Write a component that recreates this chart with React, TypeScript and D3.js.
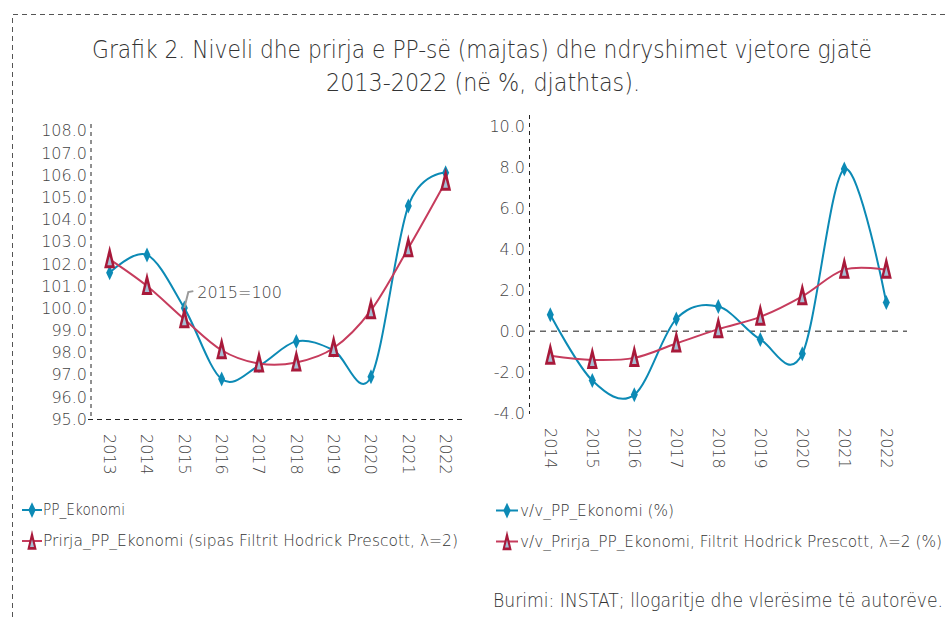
import React from "react";
import * as d3 from "d3";

const yearsLeft = ["2013", "2014", "2015", "2016", "2017", "2018", "2019", "2020", "2021", "2022"];
const ppEkonomi = [101.6, 102.4, 100.0, 96.8, 97.4, 98.5, 98.1, 96.9, 104.6, 106.1];
const prirjaPP = [102.2, 101.0, 99.5, 98.1, 97.5, 97.55, 98.2, 99.9, 102.7, 105.7];
const leftTicks = [95, 96, 97, 98, 99, 100, 101, 102, 103, 104, 105, 106, 107, 108];

const yearsRight = ["2014", "2015", "2016", "2017", "2018", "2019", "2020", "2021", "2022"];
const vvPP = [0.8, -2.4, -3.1, 0.6, 1.2, -0.4, -1.1, 7.9, 1.4];
const vvPrirja = [-1.2, -1.4, -1.3, -0.6, 0.1, 0.7, 1.7, 3.0, 3.0];
const rightTicks = [-4, -2, 0, 2, 4, 6, 8, 10];

const titleLines = [
  "Grafik 2. Niveli dhe prirja e PP-së (majtas) dhe ndryshimet vjetore gjatë",
  "2013-2022 (në %, djathtas).",
];
const legendLeft = ["PP_Ekonomi", "Prirja_PP_Ekonomi (sipas Filtrit Hodrick Prescott, λ=2)"];
const legendRight = ["v/v_PP_Ekonomi (%)", "v/v_Prirja_PP_Ekonomi,  Filtrit Hodrick Prescott, λ=2 (%)"];
const sourceText = "Burimi: INSTAT; llogaritje dhe vlerësime të autorëve.";

const BLUE = "#0c8ab5";
const RED_LINE = "#c63c5d";
const RED_MARK = "#a8193a";
const TRI_FILL = "#a7bfd5";
const TEXT = "#333333";
const TICK = "#444444";
const FONT = "'DejaVu Sans', 'Open Sans', sans-serif";
const TICKFONT = "'DejaVu Sans', 'Open Sans', sans-serif";
const LIGHT = 200;

const Diamond = ({ x, y, s = 1 }: { x: number; y: number; s?: number }) => (
  <path d={`M${x},${y - 7.5 * s} L${x + 3.5 * s},${y} L${x},${y + 7.5 * s} L${x - 3.5 * s},${y} Z`} fill={BLUE} />
);

const Triangle = ({ x, y, s = 1 }: { x: number; y: number; s?: number }) => (
  <g>
    <path d={`M${x},${y - 14 * s} L${x + 5.5 * s},${y + 9 * s} L${x - 5.5 * s},${y + 9 * s} Z`} fill={RED_MARK} />
    <path d={`M${x},${y - 3 * s} L${x + 2.3 * s},${y + 6 * s} L${x - 2.3 * s},${y + 6 * s} Z`} fill={TRI_FILL} />
  </g>
);

export default function App() {
  // Left chart scales
  const xL = d3.scalePoint<string>().domain(yearsLeft).range([91, 464.3]).padding(0.5);
  const yL = d3.scaleLinear().domain([95, 108]).range([419, 130.7]);
  // Right chart scales
  const xR = d3.scalePoint<string>().domain(yearsRight).range([529.3, 907.3]).padding(0.5);
  const yR = d3.scaleLinear().domain([-4, 10]).range([413.3, 126]);

  const curve = d3.curveCatmullRom.alpha(0);
  const lineL = d3.line<number>().x((_, i) => xL(yearsLeft[i])!).y((d) => yL(d)).curve(curve);
  const lineR = d3.line<number>().x((_, i) => xR(yearsRight[i])!).y((d) => yR(d)).curve(curve);

  const lab2015x = xL("2015")!;
  const lab2015y = yL(100);

  return (
    <svg width={946} height={617} style={{ position: "absolute", left: 0, top: 0, display: "block" }}>
      <rect x={0} y={0} width={946} height={617} fill="#ffffff" />
      {/* outer dashed frame */}
      <path d="M12.5,617 L12.5,14.5 L946,14.5" fill="none" stroke="#555" strokeWidth={1} strokeDasharray="5,4" />

      {/* title */}
      <text x={482} y={58} textAnchor="middle" fontFamily={FONT} fontWeight={LIGHT} fontSize={24} fill={TEXT} textLength={780} lengthAdjust="spacingAndGlyphs">
        {titleLines[0]}
      </text>
      <text x={483} y={91} textAnchor="middle" fontFamily={FONT} fontWeight={LIGHT} fontSize={24} fill={TEXT} textLength={314} lengthAdjust="spacingAndGlyphs">
        {titleLines[1]}
      </text>

      {/* LEFT CHART */}
      <line x1={91} x2={91} y1={124} y2={419} stroke="#222" strokeWidth={1} strokeDasharray="4,4" />
      <line x1={88} x2={464} y1={419.5} y2={419.5} stroke="#222" strokeWidth={1} strokeDasharray="5,4" />
      {leftTicks.map((t) => (
        <text key={t} x={87} y={yL(t)} dy="0.36em" textAnchor="end" fontFamily={TICKFONT} fontWeight={LIGHT} fontSize={16} fill={TICK}>
          {t.toFixed(1)}
        </text>
      ))}
      {yearsLeft.map((yr) => (
        <text
          key={yr}
          transform={`translate(${xL(yr)},${434}) rotate(90)`}
          dy="0.36em"
          textAnchor="start"
          fontFamily={TICKFONT}
          fontWeight={LIGHT}
          fontSize={16}
          fill={TICK}
        >
          {yr}
        </text>
      ))}
      <path d={lineL(ppEkonomi) || ""} fill="none" stroke={BLUE} strokeWidth={2} />
      <path d={lineL(prirjaPP) || ""} fill="none" stroke={RED_LINE} strokeWidth={2} />
      {ppEkonomi.map((v, i) => (
        <Diamond key={"dl" + i} x={xL(yearsLeft[i])!} y={yL(v)} />
      ))}
      {prirjaPP.map((v, i) => (
        <Triangle key={"tl" + i} x={xL(yearsLeft[i])!} y={yL(v)} />
      ))}
      {/* 2015=100 annotation */}
      <path
        d={`M${lab2015x},${lab2015y} L${lab2015x + 4},${lab2015y - 16} L${lab2015x + 9},${lab2015y - 17}`}
        fill="none"
        stroke="#9a9a9a"
        strokeWidth={2}
      />
      <text x={lab2015x + 13} y={lab2015y - 16} dy="0.36em" fontFamily={TICKFONT} fontWeight={LIGHT} fontSize={16} fill={TICK}>
        2015=100
      </text>

      {/* RIGHT CHART */}
      <line x1={529.5} x2={529.5} y1={115} y2={414} stroke="#222" strokeWidth={1} strokeDasharray="4,4" />
      <line x1={529} x2={907} y1={yR(0)} y2={yR(0)} stroke="#666" strokeWidth={1.5} strokeDasharray="6,5" />
      {rightTicks.map((t) => (
        <text key={t} x={525} y={yR(t)} dy="0.36em" textAnchor="end" fontFamily={TICKFONT} fontWeight={LIGHT} fontSize={16} fill={TICK}>
          {t.toFixed(1)}
        </text>
      ))}
      {yearsRight.map((yr) => (
        <text
          key={yr}
          transform={`translate(${xR(yr)},${428}) rotate(90)`}
          dy="0.36em"
          textAnchor="start"
          fontFamily={TICKFONT}
          fontWeight={LIGHT}
          fontSize={16}
          fill={TICK}
        >
          {yr}
        </text>
      ))}
      <path d={lineR(vvPP) || ""} fill="none" stroke={BLUE} strokeWidth={2} />
      <path d={lineR(vvPrirja) || ""} fill="none" stroke={RED_LINE} strokeWidth={2} />
      {vvPP.map((v, i) => (
        <Diamond key={"dr" + i} x={xR(yearsRight[i])!} y={yR(v)} />
      ))}
      {vvPrirja.map((v, i) => (
        <Triangle key={"tr" + i} x={xR(yearsRight[i])!} y={yR(v)} />
      ))}

      {/* LEGENDS */}
      <line x1={22} x2={42} y1={510} y2={510} stroke={BLUE} strokeWidth={2} />
      <Diamond x={32} y={510} s={1.05} />
      <text x={43} y={510} dy="0.36em" fontFamily={FONT} fontWeight={LIGHT} fontSize={15} fill={TEXT} textLength={82} lengthAdjust="spacingAndGlyphs">
        {legendLeft[0]}
      </text>
      <line x1={22} x2={42} y1={541} y2={541} stroke={RED_LINE} strokeWidth={2} />
      <Triangle x={32} y={542} s={0.85} />
      <text x={43} y={541} dy="0.36em" fontFamily={FONT} fontWeight={LIGHT} fontSize={15} fill={TEXT} textLength={415} lengthAdjust="spacingAndGlyphs">
        {legendLeft[1]}
      </text>

      <line x1={496} x2={518} y1={510.5} y2={510.5} stroke={BLUE} strokeWidth={2} />
      <Diamond x={507} y={510.5} s={1.05} />
      <text x={520} y={510.5} dy="0.36em" fontFamily={FONT} fontWeight={LIGHT} fontSize={15} fill={TEXT} textLength={154} lengthAdjust="spacingAndGlyphs">
        {legendRight[0]}
      </text>
      <line x1={496} x2={518} y1={541.5} y2={541.5} stroke={RED_LINE} strokeWidth={2} />
      <Triangle x={507} y={542.5} s={0.85} />
      <text x={520} y={541.5} dy="0.36em" fontFamily={FONT} fontWeight={LIGHT} fontSize={15} fill={TEXT} textLength={422} lengthAdjust="spacingAndGlyphs">
        {legendRight[1]}
      </text>

      {/* source */}
      <text x={493} y={607} fontFamily={FONT} fontWeight={LIGHT} fontSize={20} fill={TEXT} textLength={450} lengthAdjust="spacingAndGlyphs">
        {sourceText}
      </text>
    </svg>
  );
}
